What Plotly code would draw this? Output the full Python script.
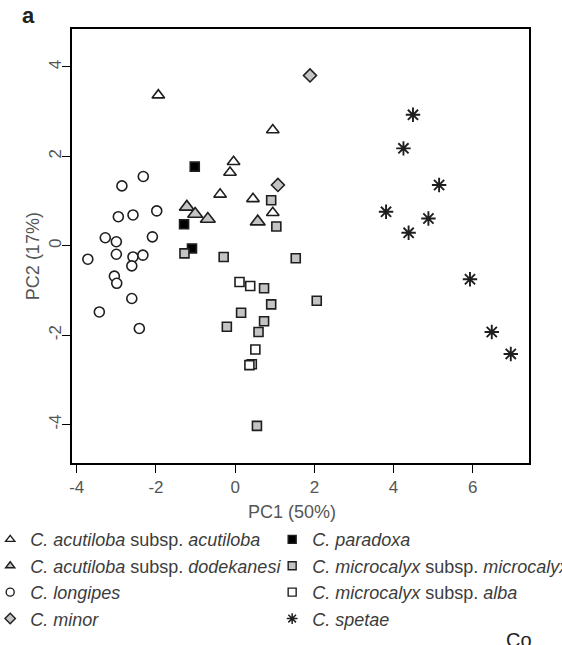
import plotly.graph_objects as go

# ---------------- data ----------------
acut_x = [-1.94, -0.04, -0.13, -0.38, 0.45, 0.95, 0.95]
acut_y = [3.37, 1.88, 1.64, 1.15, 1.05, 0.74, 2.59]

dode_x = [-1.22, -1.01, -0.69, 0.57]
dode_y = [0.87, 0.71, 0.60, 0.54]

long_x = [-3.72, -3.43, -3.28, -3.00, -3.00, -3.05, -2.99, -2.95, -2.86, -2.58,
          -2.32, -1.98, -2.09, -2.58, -2.61, -2.33, -2.61, -2.42]
long_y = [-0.30, -1.48, 0.18, 0.09, -0.19, -0.68, -0.84, 0.65, 1.34, 0.69,
          1.55, 0.78, 0.20, -0.25, -0.45, -0.21, -1.18, -1.85]

minor_x = [1.89, 1.08]
minor_y = [3.81, 1.36]

para_x = [-1.02, -1.29, -1.09]
para_y = [1.77, 0.48, -0.06]

micro_x = [-1.28, 0.91, 1.04, -0.29, 1.53, 0.73, 0.91, 2.06, 0.15, -0.21, 0.73, 0.59, 0.55]
micro_y = [-0.17, 1.02, 0.43, -0.25, -0.28, -0.95, -1.31, -1.23, -1.50, -1.81, -1.69, -1.93, -4.03]

alba_x = [0.11, 0.38, 0.51, 0.42, 0.36]
alba_y = [-0.81, -0.90, -2.32, -2.65, -2.67]

spet_x = [4.49, 4.25, 5.15, 3.81, 4.88, 4.38, 5.93, 6.48, 6.96]
spet_y = [2.93, 2.18, 1.36, 0.76, 0.61, 0.29, -0.75, -1.93, -2.42]

x_ticks = [-4, -2, 0, 2, 4, 6]
x_ticktext = ["-4", "-2", "0", "2", "4", "6"]
y_ticks = [-4, -2, 0, 2, 4]
y_ticktext = ["-4", "-2", "0", "2", "4"]

x_title = "PC1 (50%)"
y_title = "PC2 (17%)"
panel_label = "a"
footer_text = "Co"

names_col1 = ["<i>C. acutiloba</i> subsp. <i>acutiloba</i>",
              "<i>C. acutiloba</i> subsp. <i>dodekanesi</i>",
              "<i>C. longipes</i>",
              "<i>C. minor</i>"]
names_col2 = ["<i>C. paradoxa</i>",
              "<i>C. microcalyx</i> subsp. <i>microcalyx</i>",
              "<i>C. microcalyx</i> subsp. <i>alba</i>",
              "<i>C. spetae</i>"]

# ---------------- styles ----------------
EDGE = "#1e1e1e"
GRAY = "#c4c4c4"
WHITE = "#ffffff"
FONT = "Liberation Sans, Arial, sans-serif"
TXT = "#555555"

series = [
    # x, y, symbol, fill, size, legend-name, legend id
    (acut_x, acut_y, "triangle-up", WHITE, 11, names_col1[0], "legend"),
    (dode_x, dode_y, "triangle-up", GRAY, 13, names_col1[1], "legend"),
    (long_x, long_y, "circle", WHITE, 10, names_col1[2], "legend"),
    (minor_x, minor_y, "diamond", GRAY, 10, names_col1[3], "legend"),
    (para_x, para_y, "square", "#000000", 9, names_col2[0], "legend2"),
    (micro_x, micro_y, "square", GRAY, 9, names_col2[1], "legend2"),
    (alba_x, alba_y, "square", WHITE, 9, names_col2[2], "legend2"),
    (spet_x, spet_y, "asterisk-open", EDGE, 12, names_col2[3], "legend2"),
]

fig = go.Figure()

for xs, ys, sym, fill, size, name, leg in series:
    if sym.startswith("asterisk"):
        mk = dict(symbol=sym, size=size, color=EDGE, line=dict(color=EDGE, width=1.9))
    else:
        mk = dict(symbol=sym, size=size, color=fill, line=dict(color=EDGE, width=1.6))
    fig.add_trace(go.Scatter(x=xs, y=ys, mode="markers", marker=mk,
                             showlegend=False, hoverinfo="x+y"))

# legend-only entries (small symbols like the reference key)
for i, (xs, ys, sym, fill, size, name, leg) in enumerate(series):
    if sym.startswith("asterisk"):
        mk = dict(symbol=sym, size=9, color=EDGE, line=dict(color=EDGE, width=1.5))
    else:
        mk = dict(symbol=sym, size=8, color=fill, line=dict(color=EDGE, width=1.4))
    fig.add_trace(go.Scatter(x=[None], y=[None], mode="markers", marker=mk,
                             name=name, legend=leg, legendgroup="g%d" % i,
                             showlegend=True))

axis_common = dict(showline=True, linecolor="#000000", linewidth=1.5, mirror=True,
                   showgrid=False, zeroline=False, ticks="outside", ticklen=8,
                   tickwidth=1.3, tickcolor="#000000",
                   tickfont=dict(family=FONT, size=17, color=TXT))

fig.update_xaxes(range=[-4.12, 7.42], tickvals=x_ticks, ticktext=x_ticktext,
                 ticklabelstandoff=0, **axis_common)
fig.update_yaxes(range=[-4.86, 4.85], tickvals=y_ticks, ticktext=y_ticktext,
                 tickangle=-90, ticklabelstandoff=-6, **axis_common)

legend_common = dict(orientation="v", xanchor="left", yanchor="top",
                     bgcolor="rgba(0,0,0,0)", borderwidth=0, tracegroupgap=0,
                     itemwidth=30,
                     font=dict(family=FONT, size=18, color="#3c3c3c"))

fig.update_layout(
    width=562, height=645,
    margin=dict(l=72, r=33, t=29, b=182, autoexpand=False),
    plot_bgcolor="#ffffff", paper_bgcolor="#ffffff",
    font=dict(family=FONT),
    legend=dict(x=-0.179, y=-0.134, **legend_common),
    legend2=dict(x=0.438, y=-0.134, **legend_common),
    annotations=[
        dict(text=x_title, xref="paper", yref="paper", x=0.481, y=-0.112,
             xanchor="center", yanchor="middle", showarrow=False,
             font=dict(family=FONT, size=18, color=TXT)),
        dict(text=y_title, xref="paper", yref="paper", x=-0.085, y=0.477,
             xanchor="center", yanchor="middle", showarrow=False, textangle=-90,
             font=dict(family=FONT, size=18, color=TXT)),
        dict(text="<b>%s</b>" % panel_label, xref="paper", yref="paper",
             x=-0.096, y=1.03, xanchor="center", yanchor="middle", showarrow=False,
             font=dict(family=FONT, size=22, color="#222222")),
        dict(text=footer_text, xref="paper", yref="paper", x=0.945, y=-0.379,
             xanchor="left", yanchor="top", showarrow=False,
             font=dict(family=FONT, size=20, color="#222222")),
    ],
)

fig.write_html("out.html")
